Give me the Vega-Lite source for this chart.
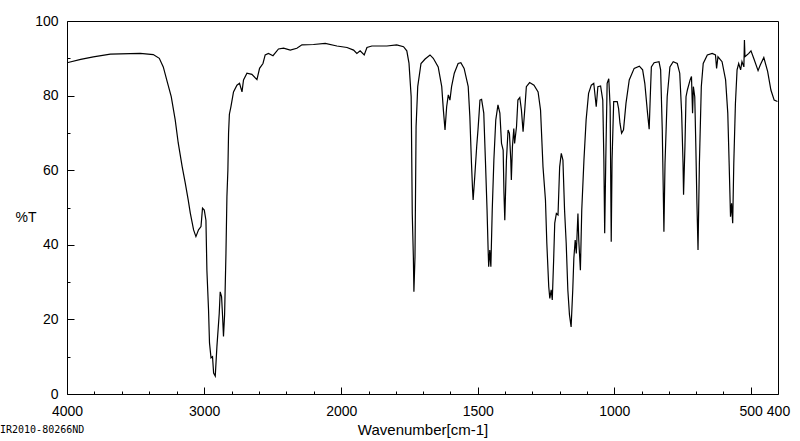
{
  "$schema": "https://vega.github.io/schema/vega-lite/v6.json",
  "autosize": "none",
  "width": 711,
  "height": 373,
  "padding": {"left": 67, "top": 21, "right": 22, "bottom": 47},
  "background": "white",
  "view": {"stroke": "black", "strokeWidth": 1},
  "title": {
    "text": "IR2010-80266ND",
    "orient": "bottom",
    "anchor": "start",
    "frame": "group",
    "font": "DejaVu Sans Mono",
    "fontSize": 10,
    "fontWeight": "normal",
    "color": "black",
    "dx": -67,
    "offset": -12
  },
  "data": {
    "values": [
      {"wn": 4000, "t": 88.8}, {"wn": 3900, "t": 89.7}, {"wn": 3808, "t": 90.4}, {"wn": 3684, "t": 91.1},
      {"wn": 3466, "t": 91.3}, {"wn": 3371, "t": 91.0}, {"wn": 3327, "t": 90.0}, {"wn": 3298, "t": 87.7},
      {"wn": 3269, "t": 83.7}, {"wn": 3240, "t": 79.7}, {"wn": 3211, "t": 73.5}, {"wn": 3189, "t": 67.3},
      {"wn": 3160, "t": 60.9}, {"wn": 3138, "t": 56.6}, {"wn": 3116, "t": 52.0}, {"wn": 3101, "t": 48.5},
      {"wn": 3077, "t": 44.0}, {"wn": 3060, "t": 42.2}, {"wn": 3041, "t": 44.0}, {"wn": 3023, "t": 44.9},
      {"wn": 3012, "t": 49.8}, {"wn": 2999, "t": 49.3}, {"wn": 2987, "t": 46.6}, {"wn": 2980, "t": 33.2},
      {"wn": 2968, "t": 22.5}, {"wn": 2961, "t": 13.7}, {"wn": 2950, "t": 9.7}, {"wn": 2939, "t": 10.0},
      {"wn": 2931, "t": 5.6}, {"wn": 2919, "t": 4.8}, {"wn": 2907, "t": 12.7}, {"wn": 2890, "t": 21.6},
      {"wn": 2883, "t": 27.4}, {"wn": 2873, "t": 26.1}, {"wn": 2866, "t": 21.2}, {"wn": 2859, "t": 15.4},
      {"wn": 2851, "t": 21.2}, {"wn": 2841, "t": 37.7}, {"wn": 2834, "t": 52.9}, {"wn": 2827, "t": 60.0},
      {"wn": 2822, "t": 70.0}, {"wn": 2816, "t": 75.0}, {"wn": 2805, "t": 77.0}, {"wn": 2786, "t": 81.0},
      {"wn": 2761, "t": 82.8}, {"wn": 2742, "t": 83.3}, {"wn": 2724, "t": 81.0}, {"wn": 2713, "t": 84.2},
      {"wn": 2688, "t": 86.0}, {"wn": 2652, "t": 85.7}, {"wn": 2615, "t": 84.3}, {"wn": 2596, "t": 87.3},
      {"wn": 2571, "t": 88.6}, {"wn": 2555, "t": 90.9}, {"wn": 2531, "t": 91.3}, {"wn": 2498, "t": 90.7},
      {"wn": 2458, "t": 92.5}, {"wn": 2421, "t": 92.7}, {"wn": 2372, "t": 92.2}, {"wn": 2324, "t": 92.7},
      {"wn": 2287, "t": 93.6}, {"wn": 2203, "t": 93.7}, {"wn": 2117, "t": 94.0}, {"wn": 2032, "t": 93.3},
      {"wn": 1979, "t": 92.9}, {"wn": 1955, "t": 92.2}, {"wn": 1943, "t": 91.3}, {"wn": 1931, "t": 92.0},
      {"wn": 1916, "t": 90.9}, {"wn": 1906, "t": 92.9}, {"wn": 1888, "t": 93.3}, {"wn": 1833, "t": 93.3},
      {"wn": 1797, "t": 93.6}, {"wn": 1772, "t": 93.1}, {"wn": 1760, "t": 92.0}, {"wn": 1752, "t": 88.7},
      {"wn": 1744, "t": 79.7}, {"wn": 1740, "t": 48.4}, {"wn": 1736, "t": 36.8}, {"wn": 1734, "t": 27.4},
      {"wn": 1730, "t": 36.8}, {"wn": 1726, "t": 71.7}, {"wn": 1720, "t": 82.4}, {"wn": 1708, "t": 88.6},
      {"wn": 1693, "t": 89.8}, {"wn": 1675, "t": 90.9}, {"wn": 1663, "t": 90.0}, {"wn": 1645, "t": 87.7},
      {"wn": 1632, "t": 82.4}, {"wn": 1626, "t": 76.1}, {"wn": 1620, "t": 70.8}, {"wn": 1614, "t": 77.0},
      {"wn": 1608, "t": 80.2}, {"wn": 1602, "t": 78.8}, {"wn": 1596, "t": 82.4}, {"wn": 1586, "t": 86.0},
      {"wn": 1572, "t": 88.6}, {"wn": 1562, "t": 88.8}, {"wn": 1550, "t": 87.3}, {"wn": 1535, "t": 82.4},
      {"wn": 1529, "t": 74.3}, {"wn": 1523, "t": 61.8}, {"wn": 1519, "t": 54.7}, {"wn": 1517, "t": 52.0},
      {"wn": 1511, "t": 58.3}, {"wn": 1504, "t": 66.3}, {"wn": 1499, "t": 71.0}, {"wn": 1495, "t": 75.3},
      {"wn": 1492, "t": 78.8}, {"wn": 1486, "t": 79.0}, {"wn": 1478, "t": 75.3}, {"wn": 1472, "t": 62.7},
      {"wn": 1466, "t": 49.3}, {"wn": 1462, "t": 38.6}, {"wn": 1460, "t": 34.1}, {"wn": 1456, "t": 38.6},
      {"wn": 1452, "t": 34.1}, {"wn": 1447, "t": 49.3}, {"wn": 1441, "t": 62.7}, {"wn": 1434, "t": 73.5},
      {"wn": 1426, "t": 77.5}, {"wn": 1419, "t": 75.3}, {"wn": 1413, "t": 67.2}, {"wn": 1407, "t": 65.4},
      {"wn": 1404, "t": 53.8}, {"wn": 1401, "t": 46.6}, {"wn": 1395, "t": 62.7}, {"wn": 1389, "t": 70.8},
      {"wn": 1384, "t": 69.9}, {"wn": 1379, "t": 62.7}, {"wn": 1377, "t": 57.4}, {"wn": 1373, "t": 66.3},
      {"wn": 1368, "t": 71.2}, {"wn": 1365, "t": 67.2}, {"wn": 1358, "t": 71.7}, {"wn": 1353, "t": 78.8},
      {"wn": 1346, "t": 79.5}, {"wn": 1340, "t": 76.1}, {"wn": 1334, "t": 70.3}, {"wn": 1328, "t": 76.1},
      {"wn": 1322, "t": 82.4}, {"wn": 1310, "t": 83.5}, {"wn": 1294, "t": 82.8}, {"wn": 1279, "t": 81.0},
      {"wn": 1270, "t": 76.1}, {"wn": 1261, "t": 60.9}, {"wn": 1252, "t": 52.0}, {"wn": 1247, "t": 40.4},
      {"wn": 1240, "t": 28.8}, {"wn": 1236, "t": 25.6}, {"wn": 1231, "t": 27.9}, {"wn": 1227, "t": 25.2},
      {"wn": 1222, "t": 35.9}, {"wn": 1218, "t": 45.8}, {"wn": 1212, "t": 48.4}, {"wn": 1206, "t": 48.0},
      {"wn": 1200, "t": 60.9}, {"wn": 1194, "t": 64.5}, {"wn": 1188, "t": 62.7}, {"wn": 1182, "t": 49.3},
      {"wn": 1176, "t": 40.4}, {"wn": 1170, "t": 27.9}, {"wn": 1164, "t": 21.2}, {"wn": 1158, "t": 18.0},
      {"wn": 1152, "t": 27.9}, {"wn": 1148, "t": 36.4}, {"wn": 1143, "t": 41.3}, {"wn": 1139, "t": 37.7},
      {"wn": 1133, "t": 48.4}, {"wn": 1130, "t": 41.3}, {"wn": 1124, "t": 33.2}, {"wn": 1119, "t": 49.3},
      {"wn": 1111, "t": 62.7}, {"wn": 1103, "t": 73.5}, {"wn": 1094, "t": 80.6}, {"wn": 1084, "t": 82.8},
      {"wn": 1075, "t": 83.3}, {"wn": 1066, "t": 77.0}, {"wn": 1060, "t": 82.4}, {"wn": 1050, "t": 82.6},
      {"wn": 1042, "t": 78.8}, {"wn": 1038, "t": 62.7}, {"wn": 1035, "t": 43.1}, {"wn": 1031, "t": 62.7},
      {"wn": 1026, "t": 83.3}, {"wn": 1020, "t": 84.5}, {"wn": 1015, "t": 77.0}, {"wn": 1011, "t": 40.8},
      {"wn": 1008, "t": 62.7}, {"wn": 1002, "t": 78.4}, {"wn": 989, "t": 78.4}, {"wn": 984, "t": 76.5},
      {"wn": 979, "t": 72.6}, {"wn": 973, "t": 69.9}, {"wn": 966, "t": 70.8}, {"wn": 957, "t": 77.9},
      {"wn": 945, "t": 84.2}, {"wn": 927, "t": 87.3}, {"wn": 908, "t": 87.9}, {"wn": 896, "t": 86.9},
      {"wn": 888, "t": 83.3}, {"wn": 878, "t": 75.3}, {"wn": 872, "t": 71.0}, {"wn": 868, "t": 79.7},
      {"wn": 864, "t": 87.7}, {"wn": 854, "t": 88.8}, {"wn": 836, "t": 89.1}, {"wn": 830, "t": 86.9},
      {"wn": 824, "t": 70.8}, {"wn": 821, "t": 57.4}, {"wn": 818, "t": 43.5}, {"wn": 814, "t": 61.8},
      {"wn": 806, "t": 79.7}, {"wn": 796, "t": 87.7}, {"wn": 784, "t": 89.1}, {"wn": 769, "t": 88.6},
      {"wn": 760, "t": 86.0}, {"wn": 753, "t": 75.3}, {"wn": 748, "t": 62.0}, {"wn": 746, "t": 53.4},
      {"wn": 741, "t": 66.3}, {"wn": 737, "t": 79.7}, {"wn": 732, "t": 81.5}, {"wn": 722, "t": 84.2},
      {"wn": 717, "t": 85.1}, {"wn": 713, "t": 75.3}, {"wn": 710, "t": 82.4}, {"wn": 705, "t": 79.7},
      {"wn": 701, "t": 66.3}, {"wn": 697, "t": 51.1}, {"wn": 693, "t": 38.6}, {"wn": 688, "t": 61.8},
      {"wn": 681, "t": 82.4}, {"wn": 674, "t": 88.6}, {"wn": 659, "t": 90.9}, {"wn": 641, "t": 91.3},
      {"wn": 629, "t": 90.9}, {"wn": 625, "t": 87.3}, {"wn": 620, "t": 90.4}, {"wn": 605, "t": 89.1},
      {"wn": 592, "t": 84.2}, {"wn": 584, "t": 75.3}, {"wn": 579, "t": 61.8}, {"wn": 574, "t": 47.5},
      {"wn": 570, "t": 51.1}, {"wn": 566, "t": 45.8}, {"wn": 562, "t": 61.8}, {"wn": 556, "t": 77.9},
      {"wn": 550, "t": 86.9}, {"wn": 544, "t": 88.6}, {"wn": 537, "t": 86.9}, {"wn": 532, "t": 89.1},
      {"wn": 525, "t": 87.7}, {"wn": 523, "t": 94.9}, {"wn": 521, "t": 90.4}, {"wn": 507, "t": 91.3},
      {"wn": 499, "t": 92.0}, {"wn": 489, "t": 90.0}, {"wn": 473, "t": 86.7}, {"wn": 465, "t": 88.2},
      {"wn": 452, "t": 90.2}, {"wn": 438, "t": 86.5}, {"wn": 426, "t": 81.5}, {"wn": 414, "t": 78.8},
      {"wn": 402, "t": 78.4}
    ]
  },
  "mark": {"type": "line", "color": "black", "strokeWidth": 1.2, "clip": true},
  "encoding": {
    "x": {
      "field": "wn",
      "type": "quantitative",
      "scale": {"domain": [4000, 2000, 400], "range": [0, 274.3, 711], "nice": false, "zero": false},
      "axis": {
        "zindex": 1,
        "title": "Wavenumber[cm-1]",
        "titleFont": "Liberation Sans",
        "titleFontSize": 15,
        "titleFontWeight": "normal",
        "titleColor": "black",
        "titleBaseline": "alphabetic",
        "titleY": 40,
        "values": [4000, 3800, 3600, 3400, 3200, 3000, 2800, 2600, 2400, 2200, 2000, 1900, 1800, 1700, 1600, 1500, 1400, 1300, 1200, 1100, 1000, 900, 800, 700, 600, 500, 400],
        "format": "d",
        "labelExpr": "indexof([4000,3000,2000,1500,1000,500,400], datum.value) >= 0 ? datum.label : ''",
        "labelFont": "Liberation Sans",
        "labelFontSize": 14,
        "labelColor": "black",
        "labelOverlap": false,
        "labelFlush": false,
        "labelBaseline": "alphabetic",
        "labelPadding": 28,
        "domain": false,
        "grid": false,
        "tickColor": "black",
        "tickWidth": 1,
        "tickSize": {"condition": {"test": "indexof([4000,3000,2000,1500,1000,500,400], datum.value) >= 0", "value": -7}, "value": -3}
      }
    },
    "y": {
      "field": "t",
      "type": "quantitative",
      "scale": {"domain": [0, 100], "nice": false, "zero": false},
      "axis": {
        "zindex": 1,
        "title": "%T",
        "titleFont": "Liberation Sans",
        "titleFontSize": 14,
        "titleFontWeight": "normal",
        "titleColor": "black",
        "titleAngle": 0,
        "titleAlign": "left",
        "titleBaseline": "middle",
        "titleX": -52,
        "titleY": 196,
        "values": [0, 10, 20, 30, 40, 50, 60, 70, 80, 90, 100],
        "labelExpr": "datum.value % 20 == 0 ? datum.label : ''",
        "labelFont": "Liberation Sans",
        "labelFontSize": 14,
        "labelColor": "black",
        "labelOverlap": false,
        "labelFlush": false,
        "labelBaseline": "middle",
        "labelPadding": 16,
        "domain": false,
        "grid": false,
        "tickColor": "black",
        "tickWidth": 1,
        "tickSize": {"condition": {"test": "datum.value % 20 == 0", "value": -7}, "value": -3}
      }
    }
  }
}
